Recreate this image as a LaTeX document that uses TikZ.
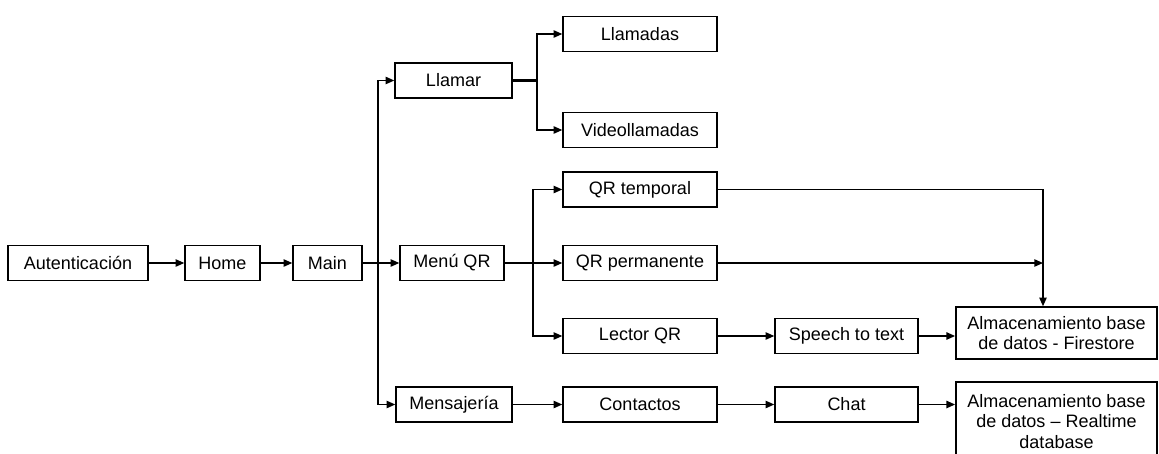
\documentclass[tikz,border=0pt]{standalone}
\usepackage{fontspec}
\setmainfont{Liberation Sans}
\usetikzlibrary{arrows.meta}

\begin{document}
\begin{tikzpicture}[
    x=0.75pt, y=-0.75pt,
    box/.style={draw, line width=1.1pt, minimum height=26.25pt, inner sep=0pt,
        font=\fontsize{13.5}{15.5}\selectfont, align=center},
    line/.style={line width=1.1pt},
    arr/.style={line, -{Triangle[length=6.5pt,width=5.5pt]}}
]
\useasboundingbox (0,0) rectangle (1159,453);

\node[box, minimum width=105pt]   (aut)       at (78,263)    {Autenticación};
\node[box, minimum width=56.25pt] (home)      at (222.5,263) {Home};
\node[box, minimum width=51.75pt] (main)      at (327.5,263) {Main};
\node[box, minimum width=87.75pt] (llamar)    at (453.5,80.5) {Llamar};
\node[box, minimum width=78pt]    (menuqr)    at (452,263)   {Menú QR};
\node[box, minimum width=87pt]    (mensaj)    at (454,404.5) {Mensajería};
\node[box, minimum width=115.5pt] (llamadas)  at (640,34)    {Llamadas};
\node[box, minimum width=115.5pt] (video)     at (640,130)   {Videollamadas};
\node[box, minimum width=115.5pt] (qrtemp)    at (640,189.5) {QR temporal};
\node[box, minimum width=115.5pt] (qrperm)    at (640,263)   {QR permanente};
\node[box, minimum width=115.5pt] (lector)    at (640,336)   {Lector QR};
\node[box, minimum width=115.5pt] (contactos) at (640,404.5) {Contactos};
\node[box, minimum width=107.25pt] (speech)   at (846.5,336) {Speech to text};
\node[box, minimum width=107.25pt] (chat)     at (846.5,404.5) {Chat};
\node[box, minimum width=151pt, minimum height=39pt] (fire) at (1056.5,333)
    {Almacenamiento base\\de datos - Firestore};
\node[box, minimum width=151pt, minimum height=59pt] (realtime) at (1056.5,421.5)
    {Almacenamiento base\\de datos -- Realtime\\database};

\coordinate (trunk)   at (378,0);
\coordinate (callsplit) at (537,0);
\coordinate (qrsplit) at (533,0);
\coordinate (db)      at (1043,0);

\draw[arr] (aut) -- (home);
\draw[arr] (home) -- (main);
\draw[arr] (main) -- (menuqr);
\draw[line] (trunk |- llamar) -- (trunk |- mensaj);
\draw[arr] (trunk |- llamar) -- (llamar);
\draw[arr] (trunk |- mensaj) -- (mensaj);

\draw[line width=2.2pt] (llamar) -- (callsplit |- llamar);
\draw[arr] (callsplit |- llamar) |- (llamadas);
\draw[arr] (callsplit |- llamar) |- (video);

\draw[arr] (menuqr) -- (qrperm);
\draw[arr] (qrsplit |- qrperm) |- (qrtemp);
\draw[arr] (qrsplit |- qrperm) |- (lector);
\draw[arr] (lector) -- (speech);
\draw[arr] (speech.east) -- (speech.east -| fire.west);
\draw[arr] (qrtemp) -| (db |- fire.north);
\draw[arr] (qrperm) -- (db |- qrperm);

\draw[arr] (mensaj) -- (contactos);
\draw[arr] (contactos) -- (chat);
\draw[arr] (chat.east) -- (chat.east -| realtime.west);
\end{tikzpicture}
\end{document}
